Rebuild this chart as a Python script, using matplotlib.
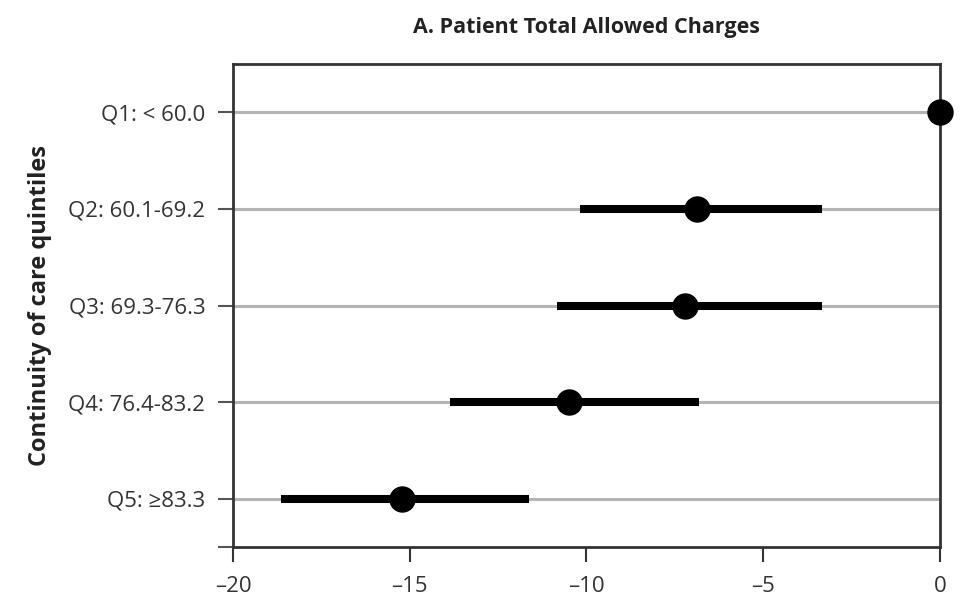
import matplotlib
matplotlib.use("Agg")
import matplotlib.pyplot as plt

# quintile labels, point estimates and 95% CI
labels = ["Q1: < 60.0", "Q2: 60.1-69.2", "Q3: 69.3-76.3", "Q4: 76.4-83.2", "Q5: \u226583.3"]
estimate = [0.0, -6.87, -7.21, -10.49, -15.22]
ci_low = [0.0, -10.18, -10.83, -13.86, -18.64]
ci_high = [0.0, -3.34, -3.34, -6.82, -11.63]
xticks = [-20, -15, -10, -5, 0]

plt.rcParams['font.family'] = ['Open Sans', 'DejaVu Sans']

fig = plt.figure(figsize=(9.62, 6.0), dpi=100)
ax = fig.add_axes([0.2422, 0.0883, 0.9771 - 0.2422, 0.8933 - 0.0883])

ypos = list(range(1, len(labels) + 1))

# light gray row lines
for y in ypos:
    ax.axhline(y, color="#b4b4b4", lw=2.2, zorder=1)

for y, lo, hi, est in zip(ypos, ci_low, ci_high, estimate):
    if hi > lo:
        ax.plot([lo, hi], [y, y], color="black", lw=5.8, solid_capstyle="butt", zorder=2)
    ax.plot(est, y, "o", color="black", ms=18, zorder=3, clip_on=False)

ax.set_xlim(-20, 0)
ax.set_ylim(5.5, 0.5)
ax.set_yticks(ypos + [5.5])
ax.set_yticklabels(labels + [""], color="#333333", fontsize=16)
ax.set_xticks(xticks)
ax.set_xticklabels([str(t).replace("-", "\u2013") for t in xticks], color="#333333", fontsize=16)
ax.tick_params(axis="y", length=11, width=1.5, color="#555555", pad=9)
ax.tick_params(axis="x", length=11, width=1.5, color="#333333", pad=10)

for side in ["top", "bottom", "left", "right"]:
    ax.spines[side].set_color("#333333")
    ax.spines[side].set_linewidth(2)

ax.set_ylabel("Continuity of care quintiles", fontsize=17, fontweight="bold", color="#222222", labelpad=12)
ax.set_title("A. Patient Total Allowed Charges", fontsize=15.5, fontweight="bold", color="#222222", pad=22)

fig.savefig("out.png", dpi=100)
